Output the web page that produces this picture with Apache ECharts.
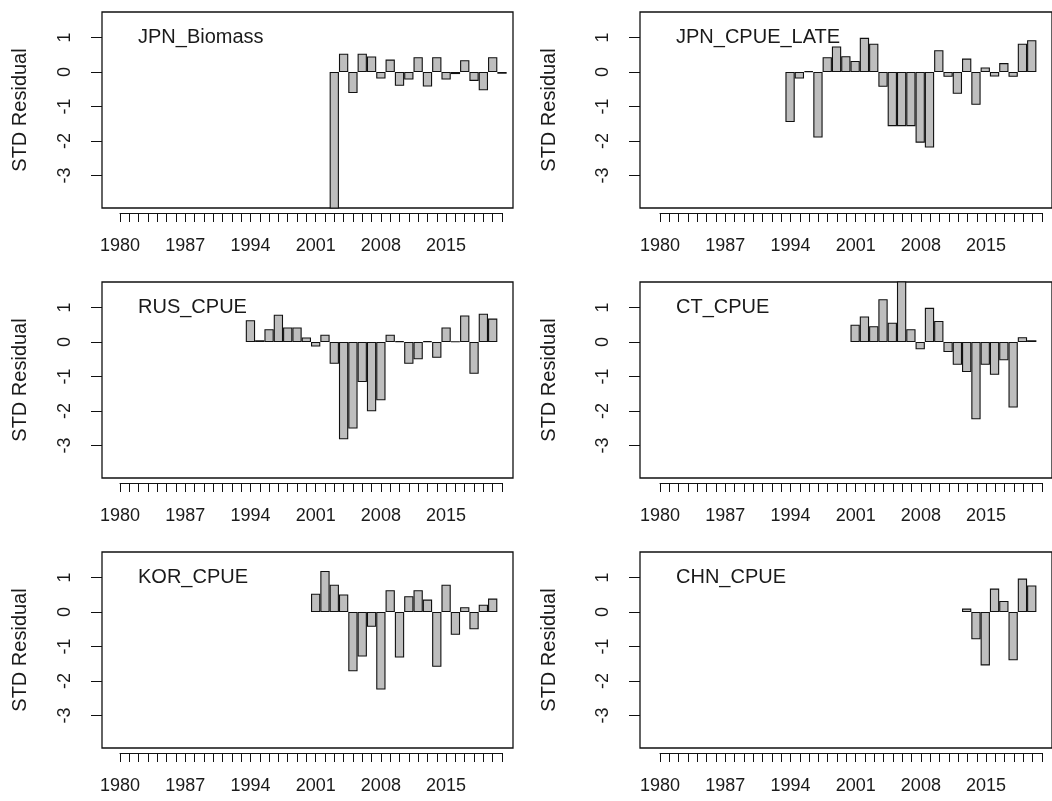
<!DOCTYPE html>
<html><head><meta charset="utf-8">
<script src="https://cdn.jsdelivr.net/npm/echarts@6/dist/echarts.min.js"></script>
<style>html,body{margin:0;padding:0;background:#fff}#c{width:1052px;height:801px}</style>
</head><body><div id="c"></div>
<script>
// ---- data ----
const panelNames = ['JPN_Biomass', 'JPN_CPUE_LATE', 'RUS_CPUE', 'CT_CPUE', 'KOR_CPUE', 'CHN_CPUE'];
const yTickValues = [-3, -2, -1, 0, 1];
const xLabelYears = [1980, 1987, 1994, 2001, 2008, 2015];
const firstYear = 1980, lastYear = 2021;

const jpnBiomassStart = 2003;
const jpnBiomass = [-4.2, 0.53, -0.61, 0.53, 0.45, -0.19, 0.36, -0.40, -0.22, 0.43, -0.42, 0.43, -0.22, -0.06, 0.34, -0.26, -0.53, 0.43, -0.05];
const jpnCpueLateStart = 1994;
const jpnCpueLate = [-1.45, -0.19, 0.02, -1.90, 0.43, 0.74, 0.46, 0.32, 0.99, 0.82, -0.43, -1.57, -1.57, -1.57, -2.05, -2.19, 0.63, -0.14, -0.63, 0.39, -0.95, 0.13, -0.13, 0.26, -0.14, 0.82, 0.92];
const rusCpueStart = 1994;
const rusCpue = [0.63, 0.05, 0.37, 0.79, 0.42, 0.42, 0.13, -0.13, 0.21, -0.63, -2.82, -2.51, -1.16, -2.01, -1.69, 0.21, 0.02, -0.63, -0.50, 0.02, -0.46, 0.42, 0.01, 0.77, -0.92, 0.82, 0.68];
const ctCpueStart = 2001;
const ctCpue = [0.50, 0.74, 0.46, 1.24, 0.56, 1.9, 0.37, -0.21, 0.99, 0.61, -0.29, -0.66, -0.87, -2.24, -0.66, -0.95, -0.53, -1.90, 0.14, 0.05];
const korCpueStart = 2001;
const korCpue = [0.53, 1.19, 0.79, 0.51, -1.72, -1.29, -0.43, -2.25, 0.63, -1.32, 0.46, 0.63, 0.36, -1.59, 0.79, -0.66, 0.14, -0.50, 0.21, 0.39];
const chnCpueStart = 2013;
const chnCpue = [0.10, -0.79, -1.55, 0.68, 0.32, -1.40, 0.97, 0.77];

const panelStarts = [jpnBiomassStart, jpnCpueLateStart, rusCpueStart, ctCpueStart, korCpueStart, chnCpueStart];
const panelValues = [jpnBiomass, jpnCpueLate, rusCpue, ctCpue, korCpue, chnCpue];

// ---- layout ----
const colLeft = [102, 640];
const colWidth = [411, 413];
const tickFirstX = [120, 660];
const nameGaps = [72, 81];
const pxPerYear = 9.317;
const rowTop = [12, 282, 552];
const boxH = 196;
const yMax = 1.739, yMin = -3.942;
const FONT = 'Liberation Sans, Arial, sans-serif';
const TXT = '#1a1a1a';

const grids = [], xAxes = [], yAxes = [], series = [], titles = [];
panelNames.forEach((name, i) => {
  const col = i % 2, row = Math.floor(i / 2);
  const xmin = firstYear - (tickFirstX[col] - colLeft[col]) / pxPerYear;
  const xmax = xmin + colWidth[col] / pxPerYear;
  grids.push({left: colLeft[col], top: rowTop[row], width: colWidth[col], height: boxH,
    show: true, borderColor: '#111', borderWidth: 1.3, backgroundColor: 'transparent', containLabel: false});
  grids.push({left: tickFirstX[col], top: rowTop[row] + boxH + 4, width: (lastYear - firstYear) * pxPerYear, height: 1, containLabel: false});
  xAxes.push({gridIndex: 2 * i, type: 'value', min: xmin, max: xmax, show: false});
  xAxes.push({gridIndex: 2 * i + 1, type: 'value', min: firstYear, max: lastYear, interval: 1, position: 'bottom',
    axisLine: {show: true, lineStyle: {color: '#111', width: 1}},
    axisTick: {show: true, length: 9, lineStyle: {color: '#111', width: 1}},
    axisLabel: {margin: 24, fontSize: 18, color: TXT, fontFamily: FONT, showMinLabel: true, showMaxLabel: true,
      formatter: v => xLabelYears.includes(Math.round(v)) ? String(Math.round(v)) : ''},
    splitLine: {show: false}});
  yAxes.push({gridIndex: 2 * i, type: 'value', min: yMin, max: yMax,
    axisLine: {show: false},
    axisTick: {show: true, length: 11, customValues: yTickValues, lineStyle: {color: '#111', width: 1}},
    axisLabel: {show: true, customValues: yTickValues, rotate: 90, margin: 28, fontSize: 18, color: TXT, fontFamily: FONT},
    splitLine: {show: false},
    name: 'STD Residual', nameLocation: 'middle', nameRotate: 90, nameGap: nameGaps[col],
    nameTextStyle: {fontSize: 20, color: TXT, fontFamily: FONT}});
  yAxes.push({gridIndex: 2 * i + 1, type: 'value', show: false});
  const start = panelStarts[i];
  series.push({type: 'bar', xAxisIndex: 2 * i, yAxisIndex: 2 * i,
    data: panelValues[i].map((v, k) => [start + k, v]),
    barWidth: 9.3, clip: true, silent: true,
    itemStyle: {color: '#bebebe', borderColor: '#111', borderWidth: 1.1}});
  titles.push({text: name, left: colLeft[col] + 36, top: rowTop[row] + 15, padding: 0,
    textStyle: {fontSize: 20, fontWeight: 'normal', color: TXT, fontFamily: FONT}});
});

const chart = echarts.init(document.getElementById('c'), null, {renderer: 'canvas'});
chart.setOption({
  animation: false,
  backgroundColor: '#fff',
  textStyle: {fontFamily: FONT},
  title: titles,
  grid: grids,
  xAxis: xAxes,
  yAxis: yAxes,
  series: series
});
</script>
</body></html>
